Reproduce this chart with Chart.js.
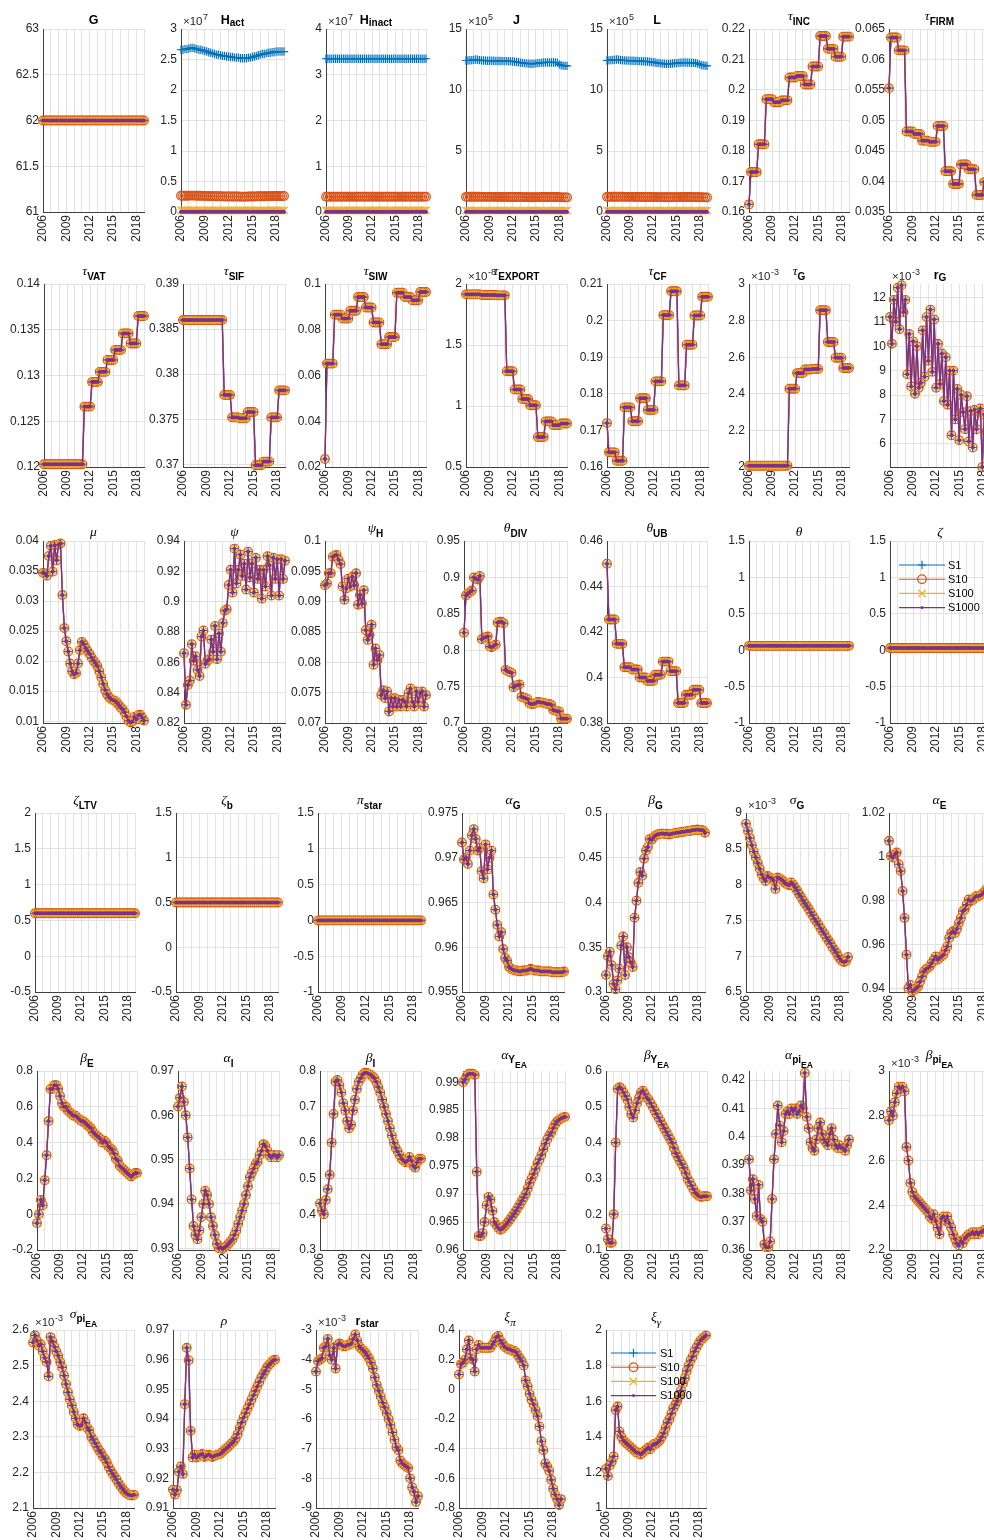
<!DOCTYPE html>
<html>
<head>
<meta charset="utf-8">
<title>Parameter paths by scenario</title>
<script src="https://cdn.jsdelivr.net/npm/chart.js@4.4.1/dist/chart.umd.min.js"></script>
<style>
  html, body { margin: 0; padding: 0; background: #fff; width: 984px; height: 1540px; overflow: hidden; }
  #fig { position: relative; width: 984px; height: 1540px; }
  #fig canvas { position: absolute; }
</style>
</head>
<body>
<div id="fig"></div>
<script>
// ---- data -------------------------------------------------------------

// quarterly observation dates, 2006Q1 .. 2019Q1
const QUARTERS = [
  2006, 2006.25, 2006.5, 2006.75, 2007, 2007.25, 2007.5, 2007.75,
  2008, 2008.25, 2008.5, 2008.75, 2009, 2009.25, 2009.5, 2009.75,
  2010, 2010.25, 2010.5, 2010.75, 2011, 2011.25, 2011.5, 2011.75,
  2012, 2012.25, 2012.5, 2012.75, 2013, 2013.25, 2013.5, 2013.75,
  2014, 2014.25, 2014.5, 2014.75, 2015, 2015.25, 2015.5, 2015.75,
  2016, 2016.25, 2016.5, 2016.75, 2017, 2017.25, 2017.5, 2017.75,
  2018, 2018.25, 2018.5, 2018.75, 2019,
];
const YEAR_LABELS = [2006, 2009, 2012, 2015, 2018];
const SERIES_NAMES = ['S1', 'S10', 'S100', 'S1000'];

const gVals = [
  62, 62, 62, 62, 62, 62, 62, 62,
  62, 62, 62, 62, 62, 62, 62, 62,
  62, 62, 62, 62, 62, 62, 62, 62,
  62, 62, 62, 62, 62, 62, 62, 62,
  62, 62, 62, 62, 62, 62, 62, 62,
  62, 62, 62, 62, 62, 62, 62, 62,
  62, 62, 62, 62, 62,
];

// H_act, units of 1e7
const hActS1 = [
  2.66, 2.66, 2.67, 2.67, 2.68, 2.69, 2.69, 2.68,
  2.67, 2.66, 2.66, 2.65, 2.64, 2.63, 2.62, 2.61,
  2.60, 2.59, 2.58, 2.58, 2.57, 2.56, 2.56, 2.55,
  2.55, 2.54, 2.54, 2.53, 2.53, 2.53, 2.52, 2.52,
  2.52, 2.52, 2.53, 2.53, 2.54, 2.55, 2.56, 2.57,
  2.58, 2.59, 2.59, 2.60, 2.61, 2.61, 2.62, 2.62,
  2.63, 2.63, 2.63, 2.63, 2.63,
];
const hActS10 = [
  0.266, 0.266, 0.267, 0.267, 0.268, 0.269, 0.269, 0.268,
  0.267, 0.266, 0.266, 0.265, 0.264, 0.263, 0.262, 0.261,
  0.260, 0.259, 0.258, 0.258, 0.257, 0.256, 0.256, 0.255,
  0.255, 0.254, 0.254, 0.253, 0.253, 0.253, 0.252, 0.252,
  0.252, 0.252, 0.253, 0.253, 0.254, 0.255, 0.256, 0.257,
  0.258, 0.259, 0.259, 0.260, 0.261, 0.261, 0.262, 0.262,
  0.263, 0.263, 0.263, 0.263, 0.263,
];
const hActS100 = [
  0.0266, 0.0266, 0.0267, 0.0267, 0.0268, 0.0269, 0.0269, 0.0268,
  0.0267, 0.0266, 0.0266, 0.0265, 0.0264, 0.0263, 0.0262, 0.0261,
  0.0260, 0.0259, 0.0258, 0.0258, 0.0257, 0.0256, 0.0256, 0.0255,
  0.0255, 0.0254, 0.0254, 0.0253, 0.0253, 0.0253, 0.0252, 0.0252,
  0.0252, 0.0252, 0.0253, 0.0253, 0.0254, 0.0255, 0.0256, 0.0257,
  0.0258, 0.0259, 0.0259, 0.0260, 0.0261, 0.0261, 0.0262, 0.0262,
  0.0263, 0.0263, 0.0263, 0.0263, 0.0263,
];
const hActS1000 = [
  0.00266, 0.00266, 0.00267, 0.00267, 0.00268, 0.00269, 0.00269, 0.00268,
  0.00267, 0.00266, 0.00266, 0.00265, 0.00264, 0.00263, 0.00262, 0.00261,
  0.00260, 0.00259, 0.00258, 0.00258, 0.00257, 0.00256, 0.00256, 0.00255,
  0.00255, 0.00254, 0.00254, 0.00253, 0.00253, 0.00253, 0.00252, 0.00252,
  0.00252, 0.00252, 0.00253, 0.00253, 0.00254, 0.00255, 0.00256, 0.00257,
  0.00258, 0.00259, 0.00259, 0.00260, 0.00261, 0.00261, 0.00262, 0.00262,
  0.00263, 0.00263, 0.00263, 0.00263, 0.00263,
];

// H_inact, units of 1e7
const hInactS1 = [
  3.35, 3.35, 3.35, 3.35, 3.35, 3.35, 3.35, 3.35,
  3.35, 3.35, 3.35, 3.35, 3.35, 3.35, 3.35, 3.35,
  3.35, 3.35, 3.35, 3.35, 3.35, 3.35, 3.35, 3.35,
  3.35, 3.35, 3.35, 3.35, 3.35, 3.35, 3.35, 3.35,
  3.35, 3.35, 3.35, 3.35, 3.35, 3.35, 3.35, 3.35,
  3.35, 3.35, 3.35, 3.35, 3.35, 3.35, 3.35, 3.35,
  3.35, 3.35, 3.35, 3.35, 3.35,
];
const hInactS10 = [
  0.335, 0.335, 0.335, 0.335, 0.335, 0.335, 0.335, 0.335,
  0.335, 0.335, 0.335, 0.335, 0.335, 0.335, 0.335, 0.335,
  0.335, 0.335, 0.335, 0.335, 0.335, 0.335, 0.335, 0.335,
  0.335, 0.335, 0.335, 0.335, 0.335, 0.335, 0.335, 0.335,
  0.335, 0.335, 0.335, 0.335, 0.335, 0.335, 0.335, 0.335,
  0.335, 0.335, 0.335, 0.335, 0.335, 0.335, 0.335, 0.335,
  0.335, 0.335, 0.335, 0.335, 0.335,
];
const hInactS100 = [
  0.0335, 0.0335, 0.0335, 0.0335, 0.0335, 0.0335, 0.0335, 0.0335,
  0.0335, 0.0335, 0.0335, 0.0335, 0.0335, 0.0335, 0.0335, 0.0335,
  0.0335, 0.0335, 0.0335, 0.0335, 0.0335, 0.0335, 0.0335, 0.0335,
  0.0335, 0.0335, 0.0335, 0.0335, 0.0335, 0.0335, 0.0335, 0.0335,
  0.0335, 0.0335, 0.0335, 0.0335, 0.0335, 0.0335, 0.0335, 0.0335,
  0.0335, 0.0335, 0.0335, 0.0335, 0.0335, 0.0335, 0.0335, 0.0335,
  0.0335, 0.0335, 0.0335, 0.0335, 0.0335,
];
const hInactS1000 = [
  0.00335, 0.00335, 0.00335, 0.00335, 0.00335, 0.00335, 0.00335, 0.00335,
  0.00335, 0.00335, 0.00335, 0.00335, 0.00335, 0.00335, 0.00335, 0.00335,
  0.00335, 0.00335, 0.00335, 0.00335, 0.00335, 0.00335, 0.00335, 0.00335,
  0.00335, 0.00335, 0.00335, 0.00335, 0.00335, 0.00335, 0.00335, 0.00335,
  0.00335, 0.00335, 0.00335, 0.00335, 0.00335, 0.00335, 0.00335, 0.00335,
  0.00335, 0.00335, 0.00335, 0.00335, 0.00335, 0.00335, 0.00335, 0.00335,
  0.00335, 0.00335, 0.00335, 0.00335, 0.00335,
];

// J, units of 1e5
const jS1 = [
  12.42, 12.42, 12.44, 12.45, 12.47, 12.50, 12.48, 12.45,
  12.43, 12.42, 12.41, 12.40, 12.40, 12.40, 12.40, 12.39,
  12.38, 12.38, 12.38, 12.37, 12.37, 12.37, 12.36, 12.35,
  12.34, 12.32, 12.30, 12.27, 12.24, 12.22, 12.20, 12.18,
  12.16, 12.15, 12.15, 12.16, 12.18, 12.20, 12.22, 12.24,
  12.25, 12.26, 12.26, 12.26, 12.26, 12.26, 12.25, 12.24,
  12.10, 12.02, 12.00, 11.98, 11.98,
];
const jS10 = [
  1.242, 1.242, 1.244, 1.245, 1.247, 1.250, 1.248, 1.245,
  1.243, 1.242, 1.241, 1.240, 1.240, 1.240, 1.240, 1.239,
  1.238, 1.238, 1.238, 1.237, 1.237, 1.237, 1.236, 1.235,
  1.234, 1.232, 1.230, 1.227, 1.224, 1.222, 1.220, 1.218,
  1.216, 1.215, 1.215, 1.216, 1.218, 1.220, 1.222, 1.224,
  1.225, 1.226, 1.226, 1.226, 1.226, 1.226, 1.225, 1.224,
  1.210, 1.202, 1.200, 1.198, 1.198,
];
const jS100 = [
  0.1242, 0.1242, 0.1244, 0.1245, 0.1247, 0.1250, 0.1248, 0.1245,
  0.1243, 0.1242, 0.1241, 0.1240, 0.1240, 0.1240, 0.1240, 0.1239,
  0.1238, 0.1238, 0.1238, 0.1237, 0.1237, 0.1237, 0.1236, 0.1235,
  0.1234, 0.1232, 0.1230, 0.1227, 0.1224, 0.1222, 0.1220, 0.1218,
  0.1216, 0.1215, 0.1215, 0.1216, 0.1218, 0.1220, 0.1222, 0.1224,
  0.1225, 0.1226, 0.1226, 0.1226, 0.1226, 0.1226, 0.1225, 0.1224,
  0.1210, 0.1202, 0.1200, 0.1198, 0.1198,
];
const jS1000 = [
  0.0124, 0.0124, 0.0124, 0.0124, 0.0125, 0.0125, 0.0125, 0.0124,
  0.0124, 0.0124, 0.0124, 0.0124, 0.0124, 0.0124, 0.0124, 0.0124,
  0.0124, 0.0124, 0.0124, 0.0124, 0.0124, 0.0124, 0.0124, 0.0124,
  0.0123, 0.0123, 0.0123, 0.0123, 0.0122, 0.0122, 0.0122, 0.0122,
  0.0122, 0.0122, 0.0122, 0.0122, 0.0122, 0.0122, 0.0122, 0.0122,
  0.0123, 0.0123, 0.0123, 0.0123, 0.0123, 0.0123, 0.0123, 0.0122,
  0.0121, 0.0120, 0.0120, 0.0120, 0.0120,
];

// L, units of 1e5
const lS1 = [
  12.42, 12.43, 12.45, 12.46, 12.48, 12.50, 12.49, 12.46,
  12.44, 12.43, 12.42, 12.41, 12.41, 12.40, 12.40, 12.39,
  12.38, 12.37, 12.36, 12.35, 12.34, 12.33, 12.32, 12.30,
  12.28, 12.25, 12.22, 12.20, 12.18, 12.16, 12.15, 12.14,
  12.14, 12.15, 12.17, 12.19, 12.20, 12.22, 12.23, 12.24,
  12.25, 12.25, 12.24, 12.24, 12.23, 12.22, 12.20, 12.18,
  12.10, 12.05, 12.02, 12.00, 11.98,
];
const lS10 = [
  1.242, 1.243, 1.245, 1.246, 1.248, 1.250, 1.249, 1.246,
  1.244, 1.243, 1.242, 1.241, 1.241, 1.240, 1.240, 1.239,
  1.238, 1.237, 1.236, 1.235, 1.234, 1.233, 1.232, 1.230,
  1.228, 1.225, 1.222, 1.220, 1.218, 1.216, 1.215, 1.214,
  1.214, 1.215, 1.217, 1.219, 1.220, 1.222, 1.223, 1.224,
  1.225, 1.225, 1.224, 1.224, 1.223, 1.222, 1.220, 1.218,
  1.210, 1.205, 1.202, 1.200, 1.198,
];
const lS100 = [
  0.1242, 0.1243, 0.1245, 0.1246, 0.1248, 0.1250, 0.1249, 0.1246,
  0.1244, 0.1243, 0.1242, 0.1241, 0.1241, 0.1240, 0.1240, 0.1239,
  0.1238, 0.1237, 0.1236, 0.1235, 0.1234, 0.1233, 0.1232, 0.1230,
  0.1228, 0.1225, 0.1222, 0.1220, 0.1218, 0.1216, 0.1215, 0.1214,
  0.1214, 0.1215, 0.1217, 0.1219, 0.1220, 0.1222, 0.1223, 0.1224,
  0.1225, 0.1225, 0.1224, 0.1224, 0.1223, 0.1222, 0.1220, 0.1218,
  0.1210, 0.1205, 0.1202, 0.1200, 0.1198,
];
const lS1000 = [
  0.0124, 0.0124, 0.0124, 0.0125, 0.0125, 0.0125, 0.0125, 0.0125,
  0.0124, 0.0124, 0.0124, 0.0124, 0.0124, 0.0124, 0.0124, 0.0124,
  0.0124, 0.0124, 0.0124, 0.0124, 0.0123, 0.0123, 0.0123, 0.0123,
  0.0123, 0.0123, 0.0122, 0.0122, 0.0122, 0.0122, 0.0122, 0.0121,
  0.0121, 0.0122, 0.0122, 0.0122, 0.0122, 0.0122, 0.0122, 0.0122,
  0.0123, 0.0123, 0.0122, 0.0122, 0.0122, 0.0122, 0.0122, 0.0122,
  0.0121, 0.0121, 0.0120, 0.0120, 0.0120,
];

const tauInc = [
  0.1625, 0.1731, 0.1731, 0.1731, 0.1731, 0.1822, 0.1822, 0.1822,
  0.1822, 0.1970, 0.1970, 0.1970, 0.1970, 0.1960, 0.1960, 0.1960,
  0.1960, 0.1966, 0.1966, 0.1966, 0.1966, 0.2041, 0.2041, 0.2041,
  0.2041, 0.2046, 0.2046, 0.2046, 0.2046, 0.2018, 0.2018, 0.2018,
  0.2018, 0.2077, 0.2077, 0.2077, 0.2077, 0.2177, 0.2177, 0.2177,
  0.2177, 0.2135, 0.2135, 0.2135, 0.2135, 0.2109, 0.2109, 0.2109,
  0.2109, 0.2175, 0.2175, 0.2175, 0.2175,
];
const tauFirm = [
  0.0553, 0.0636, 0.0636, 0.0636, 0.0636, 0.0615, 0.0615, 0.0615,
  0.0615, 0.0482, 0.0482, 0.0482, 0.0482, 0.0478, 0.0478, 0.0478,
  0.0478, 0.0467, 0.0467, 0.0467, 0.0467, 0.0465, 0.0465, 0.0465,
  0.0465, 0.0491, 0.0491, 0.0491, 0.0491, 0.0417, 0.0417, 0.0417,
  0.0417, 0.0396, 0.0396, 0.0396, 0.0396, 0.0428, 0.0428, 0.0428,
  0.0428, 0.0420, 0.0420, 0.0420, 0.0420, 0.0378, 0.0378, 0.0378,
  0.0378, 0.0399, 0.0399, 0.0399, 0.0399,
];
const tauVat = [
  0.1203, 0.1203, 0.1203, 0.1203, 0.1203, 0.1203, 0.1203, 0.1203,
  0.1203, 0.1203, 0.1203, 0.1203, 0.1203, 0.1203, 0.1203, 0.1203,
  0.1203, 0.1203, 0.1203, 0.1203, 0.1203, 0.1266, 0.1266, 0.1266,
  0.1266, 0.1293, 0.1293, 0.1293, 0.1293, 0.1304, 0.1304, 0.1304,
  0.1304, 0.1317, 0.1317, 0.1317, 0.1317, 0.1328, 0.1328, 0.1328,
  0.1328, 0.1346, 0.1346, 0.1346, 0.1346, 0.1335, 0.1335, 0.1335,
  0.1335, 0.1365, 0.1365, 0.1365, 0.1365,
];
const tauSif = [
  0.3860, 0.3860, 0.3860, 0.3860, 0.3860, 0.3860, 0.3860, 0.3860,
  0.3860, 0.3860, 0.3860, 0.3860, 0.3860, 0.3860, 0.3860, 0.3860,
  0.3860, 0.3860, 0.3860, 0.3860, 0.3860, 0.3777, 0.3777, 0.3777,
  0.3777, 0.3752, 0.3752, 0.3752, 0.3752, 0.3751, 0.3751, 0.3751,
  0.3751, 0.3758, 0.3758, 0.3758, 0.3758, 0.3699, 0.3699, 0.3699,
  0.3699, 0.3703, 0.3703, 0.3703, 0.3703, 0.3752, 0.3752, 0.3752,
  0.3752, 0.3782, 0.3782, 0.3782, 0.3782,
];
const tauSiw = [
  0.0235, 0.0652, 0.0652, 0.0652, 0.0652, 0.0866, 0.0866, 0.0866,
  0.0866, 0.0849, 0.0849, 0.0849, 0.0849, 0.0883, 0.0883, 0.0883,
  0.0883, 0.0943, 0.0943, 0.0943, 0.0943, 0.0897, 0.0897, 0.0897,
  0.0897, 0.0832, 0.0832, 0.0832, 0.0832, 0.0737, 0.0737, 0.0737,
  0.0737, 0.0768, 0.0768, 0.0768, 0.0768, 0.0962, 0.0962, 0.0962,
  0.0962, 0.0943, 0.0943, 0.0943, 0.0943, 0.0929, 0.0929, 0.0929,
  0.0929, 0.0965, 0.0965, 0.0965, 0.0965,
];
// tau_EXPORT, units of 1e-8
const tauExport = [
  1.915, 1.915, 1.915, 1.915, 1.915, 1.915, 1.915, 1.915,
  1.910, 1.910, 1.910, 1.910, 1.910, 1.910, 1.910, 1.910,
  1.907, 1.907, 1.907, 1.907, 1.907, 1.285, 1.285, 1.285,
  1.285, 1.135, 1.135, 1.135, 1.135, 1.057, 1.057, 1.057,
  1.057, 1.006, 1.006, 1.006, 1.006, 0.746, 0.746, 0.746,
  0.746, 0.874, 0.874, 0.874, 0.874, 0.843, 0.843, 0.843,
  0.843, 0.856, 0.856, 0.856, 0.856,
];
const tauCf = [
  0.1720, 0.1640, 0.1640, 0.1640, 0.1640, 0.1617, 0.1617, 0.1617,
  0.1617, 0.1763, 0.1763, 0.1763, 0.1763, 0.1725, 0.1725, 0.1725,
  0.1725, 0.1788, 0.1788, 0.1788, 0.1788, 0.1756, 0.1756, 0.1756,
  0.1756, 0.1834, 0.1834, 0.1834, 0.1834, 0.2015, 0.2015, 0.2015,
  0.2015, 0.2080, 0.2080, 0.2080, 0.2080, 0.1823, 0.1823, 0.1823,
  0.1823, 0.1934, 0.1934, 0.1934, 0.1934, 0.2014, 0.2014, 0.2014,
  0.2014, 0.2065, 0.2065, 0.2065, 0.2065,
];
// tau_G, units of 1e-3
const tauG = [
  2.007, 2.007, 2.007, 2.007, 2.007, 2.007, 2.007, 2.007,
  2.007, 2.007, 2.007, 2.007, 2.007, 2.007, 2.007, 2.007,
  2.007, 2.007, 2.007, 2.007, 2.007, 2.428, 2.428, 2.428,
  2.428, 2.513, 2.513, 2.513, 2.513, 2.533, 2.533, 2.533,
  2.533, 2.536, 2.536, 2.536, 2.536, 2.857, 2.857, 2.857,
  2.857, 2.683, 2.683, 2.683, 2.683, 2.597, 2.597, 2.597,
  2.597, 2.541, 2.541, 2.541, 2.541,
];
// r_G, units of 1e-3
const rG = [
  11.2, 10.1, 11.9, 11.0, 12.4, 10.7, 12.5, 11.4,
  11.9, 8.85, 10.5, 8.35, 10.2, 8.05, 10.0, 8.3,
  8.5, 10.65, 8.75, 11.2, 9.4, 11.5, 8.95, 11.1,
  8.3, 10.1, 8.45, 9.7, 7.75, 9.55, 7.6, 9.0,
  6.35, 9.0, 7.0, 8.25, 6.15, 8.0, 7.3, 6.6,
  7.95, 6.1, 7.35, 5.85, 7.4, 6.6, 7.3, 7.45,
  5.05, 7.2, 6.5, 7.0, 7.2,
];

const mu = [
  0.0347, 0.0346, 0.0342, 0.0375, 0.0392, 0.0349, 0.0393, 0.0368,
  0.0394, 0.0396, 0.0310, 0.0255, 0.0233, 0.0216, 0.0196, 0.0183,
  0.0178, 0.0180, 0.0196, 0.0218, 0.0232, 0.0228, 0.0222, 0.0217,
  0.0212, 0.0206, 0.0201, 0.0197, 0.0192, 0.0183, 0.0173, 0.0162,
  0.0152, 0.0145, 0.0140, 0.0137, 0.0135, 0.0134, 0.0131, 0.0127,
  0.0123, 0.0120, 0.0115, 0.0108, 0.0101, 0.0098, 0.0099, 0.0107,
  0.0103, 0.0110, 0.0111, 0.0106, 0.0101,
];
const psi = [
  0.866, 0.832, 0.845, 0.848, 0.872, 0.861, 0.864, 0.855,
  0.851, 0.877, 0.881, 0.859, 0.861, 0.862, 0.875, 0.867,
  0.884, 0.862, 0.879, 0.867, 0.886, 0.894, 0.895, 0.911,
  0.921, 0.906, 0.935, 0.912, 0.921, 0.931, 0.917, 0.925,
  0.908, 0.933, 0.916, 0.925, 0.906, 0.929, 0.915, 0.921,
  0.902, 0.921, 0.910, 0.930, 0.924, 0.904, 0.929, 0.915,
  0.928, 0.904, 0.928, 0.915, 0.927,
];
const psiH = [
  0.0927, 0.0930, 0.0947, 0.0947, 0.0974, 0.0976, 0.0977, 0.0969,
  0.0962, 0.0925, 0.0903, 0.0922, 0.0938, 0.0925, 0.0941, 0.0927,
  0.0947, 0.0895, 0.0911, 0.0897, 0.0919, 0.0853, 0.0837, 0.0845,
  0.0862, 0.0796, 0.0823, 0.0804, 0.0812, 0.0746, 0.0754, 0.0741,
  0.0752, 0.0719, 0.0741, 0.0727, 0.0741, 0.0727, 0.0738, 0.0727,
  0.0738, 0.0735, 0.0727, 0.0749, 0.0757, 0.0735, 0.0727, 0.0752,
  0.0735, 0.0749, 0.0752, 0.0727, 0.0746,
];
const thetaDiv = [
  0.824, 0.875, 0.878, 0.880, 0.882, 0.900, 0.898, 0.897,
  0.902, 0.815, 0.817, 0.818, 0.819, 0.805, 0.804, 0.806,
  0.808, 0.838, 0.839, 0.839, 0.837, 0.773, 0.771, 0.770,
  0.769, 0.749, 0.751, 0.752, 0.753, 0.736, 0.735, 0.734,
  0.733, 0.727, 0.726, 0.726, 0.727, 0.729, 0.729, 0.728,
  0.728, 0.727, 0.726, 0.726, 0.725, 0.718, 0.717, 0.716,
  0.716, 0.706, 0.706, 0.706, 0.706,
];
const thetaUb = [
  0.4500, 0.4255, 0.4255, 0.4255, 0.4255, 0.4148, 0.4148, 0.4148,
  0.4148, 0.4045, 0.4045, 0.4045, 0.4045, 0.4035, 0.4035, 0.4035,
  0.4035, 0.4000, 0.4000, 0.4000, 0.4000, 0.3985, 0.3985, 0.3985,
  0.3985, 0.4012, 0.4012, 0.4012, 0.4012, 0.4070, 0.4070, 0.4070,
  0.4070, 0.4028, 0.4028, 0.4028, 0.4028, 0.3888, 0.3888, 0.3888,
  0.3888, 0.3924, 0.3924, 0.3924, 0.3924, 0.3946, 0.3946, 0.3946,
  0.3946, 0.3888, 0.3888, 0.3888, 0.3888,
];
const theta = [
  0.06, 0.06, 0.06, 0.06, 0.06, 0.06, 0.06, 0.06,
  0.06, 0.06, 0.06, 0.06, 0.06, 0.06, 0.06, 0.06,
  0.06, 0.06, 0.06, 0.06, 0.06, 0.06, 0.06, 0.06,
  0.06, 0.06, 0.06, 0.06, 0.06, 0.06, 0.06, 0.06,
  0.06, 0.06, 0.06, 0.06, 0.06, 0.06, 0.06, 0.06,
  0.06, 0.06, 0.06, 0.06, 0.06, 0.06, 0.06, 0.06,
  0.06, 0.06, 0.06, 0.06, 0.06,
];
const zeta = [
  0.03, 0.03, 0.03, 0.03, 0.03, 0.03, 0.03, 0.03,
  0.03, 0.03, 0.03, 0.03, 0.03, 0.03, 0.03, 0.03,
  0.03, 0.03, 0.03, 0.03, 0.03, 0.03, 0.03, 0.03,
  0.03, 0.03, 0.03, 0.03, 0.03, 0.03, 0.03, 0.03,
  0.03, 0.03, 0.03, 0.03, 0.03, 0.03, 0.03, 0.03,
  0.03, 0.03, 0.03, 0.03, 0.03, 0.03, 0.03, 0.03,
  0.03, 0.03, 0.03, 0.03, 0.03,
];

const zetaLtv = [
  0.6, 0.6, 0.6, 0.6, 0.6, 0.6, 0.6, 0.6,
  0.6, 0.6, 0.6, 0.6, 0.6, 0.6, 0.6, 0.6,
  0.6, 0.6, 0.6, 0.6, 0.6, 0.6, 0.6, 0.6,
  0.6, 0.6, 0.6, 0.6, 0.6, 0.6, 0.6, 0.6,
  0.6, 0.6, 0.6, 0.6, 0.6, 0.6, 0.6, 0.6,
  0.6, 0.6, 0.6, 0.6, 0.6, 0.6, 0.6, 0.6,
  0.6, 0.6, 0.6, 0.6, 0.6,
];
const zetaB = [
  0.5, 0.5, 0.5, 0.5, 0.5, 0.5, 0.5, 0.5,
  0.5, 0.5, 0.5, 0.5, 0.5, 0.5, 0.5, 0.5,
  0.5, 0.5, 0.5, 0.5, 0.5, 0.5, 0.5, 0.5,
  0.5, 0.5, 0.5, 0.5, 0.5, 0.5, 0.5, 0.5,
  0.5, 0.5, 0.5, 0.5, 0.5, 0.5, 0.5, 0.5,
  0.5, 0.5, 0.5, 0.5, 0.5, 0.5, 0.5, 0.5,
  0.5, 0.5, 0.5, 0.5, 0.5,
];
const piStar = [
  0, 0, 0, 0, 0, 0, 0, 0,
  0, 0, 0, 0, 0, 0, 0, 0,
  0, 0, 0, 0, 0, 0, 0, 0,
  0, 0, 0, 0, 0, 0, 0, 0,
  0, 0, 0, 0, 0, 0, 0, 0,
  0, 0, 0, 0, 0, 0, 0, 0,
  0, 0, 0, 0, 0,
];
const alphaG = [
  0.9717, 0.9698, 0.9700, 0.9693, 0.9708, 0.9725, 0.9732, 0.9721,
  0.9708, 0.9711, 0.9685, 0.9677, 0.9715, 0.9687, 0.9700, 0.9708,
  0.9659, 0.9642, 0.9625, 0.9612, 0.9617, 0.9598, 0.9588, 0.9585,
  0.9578, 0.9576, 0.9575, 0.9574, 0.9574, 0.9573, 0.9573, 0.9574,
  0.9574, 0.9574, 0.9575, 0.9576, 0.9575, 0.9574, 0.9574, 0.9574,
  0.9573, 0.9573, 0.9573, 0.9573, 0.9573, 0.9573, 0.9572, 0.9572,
  0.9572, 0.9572, 0.9572, 0.9572, 0.9573,
];
const betaG = [
  0.319, 0.340, 0.345, 0.330, 0.309, 0.303, 0.313, 0.326,
  0.352, 0.362, 0.319, 0.350, 0.339, 0.333, 0.328, 0.383,
  0.402, 0.422, 0.434, 0.430, 0.449, 0.458, 0.462, 0.471,
  0.470, 0.473, 0.475, 0.476, 0.4765, 0.477, 0.477, 0.4765,
  0.477, 0.476, 0.4765, 0.477, 0.4775, 0.478, 0.478, 0.4785,
  0.479, 0.479, 0.4795, 0.480, 0.480, 0.4805, 0.481, 0.481,
  0.4815, 0.481, 0.481, 0.4805, 0.478,
];
// sigma_G, units of 1e-3
const sigmaG = [
  8.85, 8.75, 8.65, 8.55, 8.46, 8.38, 8.30, 8.22,
  8.14, 8.09, 8.05, 8.12, 8.10, 8.09, 8.06, 7.94,
  8.10, 8.09, 8.07, 8.05, 8.02, 8.00, 7.99, 8.03,
  8.00, 7.96, 7.92, 7.87, 7.83, 7.78, 7.74, 7.70,
  7.66, 7.61, 7.57, 7.52, 7.48, 7.44, 7.39, 7.35,
  7.31, 7.26, 7.22, 7.18, 7.13, 7.09, 7.05, 7.00,
  6.96, 6.93, 6.92, 6.93, 6.99,
];
const alphaE = [
  1.0073, 1.0004, 0.9997, 1.0012, 1.0020, 0.9966, 0.9935, 0.9844,
  0.9721, 0.9553, 0.9400, 0.9415, 0.9385, 0.9392, 0.9400, 0.9408,
  0.9430, 0.9453, 0.9476, 0.9487, 0.9492, 0.9499, 0.9515, 0.9530,
  0.9545, 0.9530, 0.9538, 0.9545, 0.9553, 0.9573, 0.9591, 0.9629,
  0.9652, 0.9660, 0.9652, 0.9671, 0.9698, 0.9721, 0.9752, 0.9759,
  0.9782, 0.9805, 0.9798, 0.9802, 0.9813, 0.9821, 0.9820, 0.9825,
  0.9830, 0.9840, 0.9850, 0.9860, 0.9870,
];

const betaE = [
  -0.05, 0.00, 0.08, 0.05, 0.19, 0.33, 0.52, 0.70,
  0.70, 0.72, 0.72, 0.70, 0.66, 0.62, 0.60, 0.60,
  0.58, 0.57, 0.56, 0.55, 0.55, 0.54, 0.53, 0.52,
  0.52, 0.51, 0.50, 0.49, 0.48, 0.46, 0.45, 0.44,
  0.43, 0.42, 0.40, 0.41, 0.40, 0.38, 0.37, 0.36,
  0.34, 0.31, 0.30, 0.27, 0.26, 0.25, 0.24, 0.23,
  0.22, 0.21, 0.22, 0.23, 0.23,
];
const alphaI = [
  0.9620, 0.9640, 0.9665, 0.9630, 0.9600, 0.9550, 0.9480, 0.9410,
  0.9350, 0.9330, 0.9320, 0.9340, 0.9370, 0.9400, 0.9430, 0.9420,
  0.9400, 0.9370, 0.9350, 0.9330, 0.9310, 0.9300, 0.9302, 0.9298,
  0.9302, 0.9305, 0.9310, 0.9315, 0.9320, 0.9330, 0.9340, 0.9355,
  0.9370, 0.9385, 0.9400, 0.9420, 0.9440, 0.9460, 0.9470, 0.9480,
  0.9490, 0.9495, 0.9510, 0.9520, 0.9535, 0.9530, 0.9520, 0.9510,
  0.9505, 0.9510, 0.9510, 0.9505, 0.9510,
];
const betaI = [
  0.43, 0.41, 0.40, 0.44, 0.47, 0.51, 0.60, 0.68,
  0.77, 0.775, 0.76, 0.74, 0.71, 0.69, 0.66, 0.64,
  0.65, 0.69, 0.72, 0.75, 0.77, 0.78, 0.79, 0.795,
  0.795, 0.792, 0.79, 0.785, 0.78, 0.77, 0.755, 0.74,
  0.72, 0.70, 0.68, 0.66, 0.64, 0.62, 0.60, 0.585,
  0.575, 0.565, 0.555, 0.55, 0.545, 0.55, 0.56, 0.55,
  0.535, 0.53, 0.545, 0.555, 0.555,
];
const alphaYEA = [
  0.9900, 0.9905, 0.9912, 0.9915, 0.9915, 0.9915, 0.9913, 0.9740,
  0.9625, 0.9625, 0.9630, 0.9650, 0.9680, 0.9695, 0.9690, 0.9670,
  0.9650, 0.9645, 0.9640, 0.9636, 0.9638, 0.9642, 0.9646, 0.9650,
  0.9655, 0.9660, 0.9665, 0.9670, 0.9676, 0.9682, 0.9688, 0.9694,
  0.9700, 0.9710, 0.9720, 0.9728, 0.9736, 0.9745, 0.9755, 0.9762,
  0.9770, 0.9780, 0.9790, 0.9798, 0.9805, 0.9810, 0.9818, 0.9825,
  0.9830, 0.9833, 0.9835, 0.9837, 0.9838,
];
const betaYEA = [
  0.16, 0.13, 0.12, 0.12, 0.20, 0.40, 0.55, 0.555,
  0.55, 0.54, 0.53, 0.52, 0.50, 0.48, 0.47, 0.49,
  0.51, 0.525, 0.54, 0.545, 0.535, 0.525, 0.52, 0.51,
  0.50, 0.49, 0.48, 0.47, 0.46, 0.45, 0.44, 0.43,
  0.42, 0.41, 0.40, 0.385, 0.37, 0.36, 0.35, 0.34,
  0.33, 0.315, 0.30, 0.29, 0.28, 0.27, 0.26, 0.255,
  0.25, 0.248, 0.25, 0.25, 0.25,
];
const alphaPiEA = [
  0.392, 0.381, 0.385, 0.378, 0.372, 0.383, 0.371, 0.370,
  0.362, 0.361, 0.361, 0.363, 0.378, 0.392, 0.401, 0.411,
  0.404, 0.398, 0.402, 0.408, 0.409, 0.408, 0.410, 0.409,
  0.410, 0.408, 0.409, 0.411, 0.410, 0.4225, 0.407, 0.403,
  0.398, 0.396, 0.395, 0.399, 0.403, 0.405, 0.401, 0.399,
  0.398, 0.397, 0.401, 0.403, 0.399, 0.397, 0.396, 0.397,
  0.396, 0.396, 0.395, 0.397, 0.399,
];
// beta_piEA, units of 1e-3
const betaPiEA = [
  2.78, 2.82, 2.80, 2.86, 2.90, 2.93, 2.92, 2.93,
  2.91, 2.66, 2.60, 2.50, 2.46, 2.44, 2.43, 2.42,
  2.41, 2.40, 2.39, 2.38, 2.37, 2.35, 2.34, 2.36,
  2.33, 2.30, 2.27, 2.34, 2.35, 2.33, 2.35, 2.32,
  2.30, 2.27, 2.25, 2.23, 2.22, 2.24, 2.23, 2.25,
  2.26, 2.27, 2.27, 2.28, 2.27, 2.28, 2.27, 2.28,
  2.28, 2.29, 2.29, 2.28, 2.29,
];

// sigma_piEA, units of 1e-3
const sigmaPiEA = [
  2.565, 2.585, 2.570, 2.556, 2.560, 2.540, 2.522, 2.510,
  2.470, 2.580, 2.568, 2.553, 2.540, 2.528, 2.510, 2.495,
  2.472, 2.448, 2.425, 2.405, 2.388, 2.370, 2.352, 2.335,
  2.330, 2.333, 2.352, 2.340, 2.325, 2.318, 2.300, 2.292,
  2.282, 2.272, 2.262, 2.255, 2.245, 2.238, 2.228, 2.215,
  2.205, 2.196, 2.188, 2.180, 2.170, 2.162, 2.155, 2.148,
  2.142, 2.138, 2.136, 2.135, 2.137,
];
const rho = [
  0.9162, 0.9145, 0.9160, 0.9222, 0.9240, 0.9215, 0.9450, 0.9640,
  0.9598, 0.9360, 0.9270, 0.9280, 0.9270, 0.9275, 0.9280, 0.9282,
  0.9272, 0.9276, 0.9280, 0.9278, 0.9272, 0.9275, 0.9278, 0.9280,
  0.9282, 0.9288, 0.9295, 0.9300, 0.9305, 0.9312, 0.9318, 0.9325,
  0.9335, 0.9350, 0.9370, 0.9388, 0.9405, 0.9420, 0.9435, 0.9450,
  0.9465, 0.9480, 0.9495, 0.9510, 0.9525, 0.9540, 0.9552, 0.9562,
  0.9575, 0.9583, 0.9590, 0.9597, 0.9600,
];
// r_star, units of 1e-3
const rStar = [
  -4.40, -4.05, -4.00, -3.95, -3.60, -3.55, -3.30, -3.85,
  -4.00, -3.60, -4.30, -3.50, -3.45, -3.50, -3.55, -3.55,
  -3.50, -3.50, -3.45, -3.30, -3.15, -3.35, -3.55, -3.62,
  -3.68, -3.75, -3.85, -3.95, -4.10, -4.30, -4.60, -4.85,
  -5.05, -5.25, -5.45, -5.60, -5.80, -6.00, -6.20, -6.45,
  -6.70, -6.95, -7.05, -7.40, -7.50, -7.55, -7.60, -7.65,
  -8.00, -8.30, -8.45, -8.80, -8.60,
];
const xiPi = [
  0.10, 0.17, 0.18, 0.20, 0.27, 0.33, 0.21, 0.20,
  0.12, 0.27, 0.30, 0.28, 0.28, 0.28, 0.28, 0.28,
  0.28, 0.30, 0.32, 0.35, 0.36, 0.33, 0.31, 0.29,
  0.28, 0.27, 0.27, 0.26, 0.26, 0.25, 0.23, 0.21,
  0.19, 0.16, 0.06, 0.02, -0.03, -0.07, -0.10, -0.14,
  -0.18, -0.25, -0.35, -0.41, -0.50, -0.52, -0.55, -0.61,
  -0.67, -0.71, -0.74, -0.78, -0.74,
];
const xiGamma = [
  1.22, 1.18, 1.24, 1.26, 1.29, 1.55, 1.57, 1.43,
  1.40, 1.38, 1.37, 1.36, 1.35, 1.34, 1.33, 1.32,
  1.31, 1.31, 1.30, 1.31, 1.32, 1.33, 1.34, 1.33,
  1.35, 1.36, 1.36, 1.37, 1.38, 1.40, 1.42, 1.45,
  1.48, 1.50, 1.53, 1.56, 1.58, 1.60, 1.63, 1.66,
  1.70, 1.73, 1.77, 1.80, 1.83, 1.85, 1.88, 1.90,
  1.92, 1.94, 1.95, 1.96, 1.97,
];

// ---- panel definitions --------------------------------------------------
// title segments: [text, 'b' bold latin | 'g' greek, level 0/1/2 (subscript depth)]
const PANELS = [
  { title: [['G', 'b', 0]], y: [61, 63, 0.5], series: [gVals] },
  { title: [['H', 'b', 0], ['act', 'b', 1]], exp: '7', y: [0, 3, 0.5], series: [hActS1, hActS10, hActS100, hActS1000] },
  { title: [['H', 'b', 0], ['inact', 'b', 1]], exp: '7', y: [0, 4, 1], series: [hInactS1, hInactS10, hInactS100, hInactS1000] },
  { title: [['J', 'b', 0]], exp: '5', y: [0, 15, 5], series: [jS1, jS10, jS100, jS1000] },
  { title: [['L', 'b', 0]], exp: '5', y: [0, 15, 5], series: [lS1, lS10, lS100, lS1000] },
  { title: [['τ', 'g', 0], ['INC', 'b', 1]], y: [0.16, 0.22, 0.01], series: [tauInc] },
  { title: [['τ', 'g', 0], ['FIRM', 'b', 1]], y: [0.035, 0.065, 0.005], series: [tauFirm] },

  { title: [['τ', 'g', 0], ['VAT', 'b', 1]], y: [0.12, 0.14, 0.005], series: [tauVat] },
  { title: [['τ', 'g', 0], ['SIF', 'b', 1]], y: [0.3697, 0.39, 0.005], series: [tauSif] },
  { title: [['τ', 'g', 0], ['SIW', 'b', 1]], y: [0.02, 0.1, 0.02], series: [tauSiw] },
  { title: [['τ', 'g', 0], ['EXPORT', 'b', 1]], exp: '-8', y: [0.5, 2, 0.5], series: [tauExport] },
  { title: [['τ', 'g', 0], ['CF', 'b', 1]], y: [0.16, 0.21, 0.01], series: [tauCf] },
  { title: [['τ', 'g', 0], ['G', 'b', 1]], exp: '-3', y: [2, 3, 0.2], series: [tauG] },
  { title: [['r', 'b', 0], ['G', 'b', 1]], exp: '-3', y: [5.05, 12.55, 1], series: [rG] },

  { title: [['μ', 'g', 0]], y: [0.0097, 0.04, 0.005], series: [mu] },
  { title: [['ψ', 'g', 0]], y: [0.82, 0.94, 0.02], series: [psi] },
  { title: [['ψ', 'g', 0], ['H', 'b', 1]], y: [0.07, 0.1, 0.005], series: [psiH] },
  { title: [['θ', 'g', 0], ['DIV', 'b', 1]], y: [0.7, 0.95, 0.05], series: [thetaDiv] },
  { title: [['θ', 'g', 0], ['UB', 'b', 1]], y: [0.38, 0.46, 0.02], series: [thetaUb] },
  { title: [['θ', 'g', 0]], y: [-1, 1.5, 0.5], series: [theta] },
  { title: [['ζ', 'g', 0]], y: [-1, 1.5, 0.5], series: [zeta], legend: { x0: 9, x1: 55, tx: 58, dy: 24 } },

  { title: [['ζ', 'g', 0], ['LTV', 'b', 1]], y: [-0.5, 2, 0.5], series: [zetaLtv] },
  { title: [['ζ', 'g', 0], ['b', 'b', 1]], y: [-0.5, 1.5, 0.5], series: [zetaB] },
  { title: [['π', 'g', 0], ['star', 'b', 1]], y: [-1, 1.5, 0.5], series: [piStar] },
  { title: [['α', 'g', 0], ['G', 'b', 1]], y: [0.955, 0.975, 0.005], series: [alphaG] },
  { title: [['β', 'g', 0], ['G', 'b', 1]], y: [0.3, 0.5, 0.05], series: [betaG] },
  { title: [['σ', 'g', 0], ['G', 'b', 1]], exp: '-3', y: [6.5, 9, 0.5], series: [sigmaG] },
  { title: [['α', 'g', 0], ['E', 'b', 1]], y: [0.9383, 1.02, 0.02], series: [alphaE] },

  { title: [['β', 'g', 0], ['E', 'b', 1]], y: [-0.2, 0.8, 0.2], series: [betaE] },
  { title: [['α', 'g', 0], ['I', 'b', 1]], y: [0.9296, 0.97, 0.01], series: [alphaI] },
  { title: [['β', 'g', 0], ['I', 'b', 1]], y: [0.3, 0.8, 0.1], series: [betaI] },
  { title: [['α', 'g', 0], ['Y', 'b', 1], ['EA', 'b', 2]], y: [0.96, 0.992, 0.005], series: [alphaYEA] },
  { title: [['β', 'g', 0], ['Y', 'b', 1], ['EA', 'b', 2]], y: [0.1, 0.6, 0.1], series: [betaYEA] },
  { title: [['α', 'g', 0], ['pi', 'b', 1], ['EA', 'b', 2]], y: [0.36, 0.4232, 0.01], series: [alphaPiEA] },
  { title: [['β', 'g', 0], ['pi', 'b', 1], ['EA', 'b', 2]], exp: '-3', y: [2.2, 3, 0.2], series: [betaPiEA] },

  { title: [['σ', 'g', 0], ['pi', 'b', 1], ['EA', 'b', 2]], exp: '-3', y: [2.1, 2.6, 0.1], series: [sigmaPiEA] },
  { title: [['ρ', 'g', 0]], y: [0.91, 0.97, 0.01], series: [rho] },
  { title: [['r', 'b', 0], ['star', 'b', 1]], exp: '-3', y: [-9, -3, 1], series: [rStar] },
  { title: [['ξ', 'g', 0], ['π', 'g', 1]], y: [-0.8, 0.4, 0.2], series: [xiPi] },
  { title: [['ξ', 'g', 0], ['γ', 'g', 1]], y: [1, 2, 0.2], series: [xiGamma], legend: { x0: 5, x1: 50, tx: 54, dy: 23 } },
];

// ---- layout (axes boxes in page pixels) ---------------------------------
const ROW_TOP = [29, 284, 541, 813, 1071, 1330];
const ROW_H = [183, 183, 182, 179, 179, 178];
const COL_LEFT = [
  [43, 181, 326, 466, 607, 749, 889],
  [44, 183, 325, 466, 607, 749, 890],
  [43, 184, 325, 464, 607, 749, 890],
  [35, 176, 318, 462, 606, 746, 889],
  [37, 178, 320, 463, 606, 749, 889],
  [33, 173, 316, 459, 606],
];
const COL_W = [
  [101, 103, 100, 101, 100, 100, 101],
  [100, 102, 101, 101, 101, 100, 100],
  [101, 101, 101, 103, 100, 100, 100],
  [100, 102, 103, 102, 99, 102, 101],
  [100, 101, 101, 102, 101, 100, 101],
  [101, 102, 102, 102, 100],
];
const PAD_L = 46, PAD_T = 32, PAD_R = 12, PAD_B = 34;

// ---- styles -------------------------------------------------------------
const SANS = '"Liberation Sans", Arial, Helvetica, sans-serif';
const SERIF = '"Liberation Serif", "DejaVu Serif", serif';
const TEXT = '#262626';
const GRID = '#e2e2e2';
const AXIS = '#404040';

const SERIES_STYLE = [
  { color: '#0072BD', point: 'cross', r: 4.2, fill: false, lw: 1.1, mw: 1.2 },
  { color: '#D95319', point: 'circle', r: 4.3, fill: false, lw: 1.1, mw: 1.3 },
  { color: '#EDB120', point: 'crossRot', r: 5.2, fill: false, lw: 1.1, mw: 1.2 },
  { color: '#7E2F8E', point: 'circle', r: 1.5, fill: true, lw: 1.4, mw: 1 },
];

Chart.defaults.font.family = SANS;
Chart.defaults.font.size = 12;
Chart.defaults.color = TEXT;

const TITLE_SIZE = { b: ['bold 12.5px', 'bold 10px', 'bold 8.5px'], g: ['italic 13.5px', 'italic 11px', 'italic 9px'] };

function segFont(kind, lvl) {
  return TITLE_SIZE[kind][lvl] + ' ' + (kind === 'g' ? SERIF : SANS);
}

// distance of each subscript level's baseline above the axes top
function titleBaselines(segs) {
  const depth = Math.max(...segs.map(s => s[2]));
  if (depth === 0) return [5];
  if (depth === 2) return [12, 8.5, 3];
  return segs[0][1] === 'g' ? [9, 4] : [5.5, 3];
}

function drawTitle(ctx, segs, cx, top) {
  const base = titleBaselines(segs);
  let w = 0;
  segs.forEach(s => { ctx.font = segFont(s[1], s[2]); w += ctx.measureText(s[0]).width; });
  let x = cx - w / 2;
  ctx.fillStyle = '#000';
  ctx.textAlign = 'left';
  ctx.textBaseline = 'alphabetic';
  segs.forEach(s => {
    ctx.font = segFont(s[1], s[2]);
    ctx.fillText(s[0], x, top - base[s[2]]);
    x += ctx.measureText(s[0]).width;
  });
}

function drawExponent(ctx, exp, left, top) {
  ctx.fillStyle = TEXT;
  ctx.textAlign = 'left';
  ctx.textBaseline = 'alphabetic';
  ctx.font = '11.5px ' + SANS;
  ctx.fillText('×10', left + 2, top - 4);
  const w = ctx.measureText('×10').width;
  ctx.font = '9px ' + SANS;
  ctx.fillText(exp, left + 2.5 + w, top - 9);
}

function drawMarker(ctx, st, x, y) {
  const r = st.r;
  ctx.strokeStyle = st.color;
  ctx.fillStyle = st.color;
  ctx.lineWidth = st.mw;
  ctx.beginPath();
  if (st.point === 'cross') {
    ctx.moveTo(x - r, y); ctx.lineTo(x + r, y);
    ctx.moveTo(x, y - r); ctx.lineTo(x, y + r);
    ctx.stroke();
  } else if (st.point === 'crossRot') {
    const d = r * Math.SQRT1_2;
    ctx.moveTo(x - d, y - d); ctx.lineTo(x + d, y + d);
    ctx.moveTo(x - d, y + d); ctx.lineTo(x + d, y - d);
    ctx.stroke();
  } else {
    ctx.arc(x, y, r, 0, Math.PI * 2);
    if (st.fill) ctx.fill(); else ctx.stroke();
  }
}

function drawLegend(ctx, a, lg) {
  SERIES_STYLE.forEach((st, s) => {
    const y = a.top + lg.dy + s * 14.2;
    ctx.strokeStyle = st.color;
    ctx.lineWidth = st.lw;
    ctx.beginPath();
    ctx.moveTo(a.left + lg.x0, y);
    ctx.lineTo(a.left + lg.x1, y);
    ctx.stroke();
    drawMarker(ctx, st, a.left + (lg.x0 + lg.x1) / 2, y);
    ctx.fillStyle = '#000';
    ctx.font = '11px ' + SANS;
    ctx.textAlign = 'left';
    ctx.textBaseline = 'middle';
    ctx.fillText(SERIES_NAMES[s], a.left + lg.tx, y + 0.5);
  });
}

// title, x10^n multiplier and legend drawn on top of each small chart
const panelDecor = {
  id: 'panelDecor',
  afterDraw(chart, args, opts) {
    const p = opts.panel;
    const a = chart.chartArea;
    const ctx = chart.ctx;
    ctx.save();
    drawTitle(ctx, p.title, (a.left + a.right) / 2, a.top);
    if (p.exp) drawExponent(ctx, p.exp, a.left, a.top);
    if (p.legend) drawLegend(ctx, a, p.legend);
    ctx.restore();
  },
};

const fmtTick = v => String(Number(v.toFixed(6)));

// ---- build the grid of charts ------------------------------------------
const fig = document.getElementById('fig');

PANELS.forEach((p, k) => {
  const row = Math.floor(k / 7);
  const col = k % 7;
  const left = COL_LEFT[row][col];
  const width = COL_W[row][col];
  const top = ROW_TOP[row];
  const height = ROW_H[row];

  const canvas = document.createElement('canvas');
  const cw = PAD_L + width + PAD_R;
  const ch = PAD_T + height + PAD_B;
  canvas.width = cw;
  canvas.height = ch;
  canvas.style.left = (left - PAD_L) + 'px';
  canvas.style.top = (top - PAD_T) + 'px';
  canvas.style.width = cw + 'px';
  canvas.style.height = ch + 'px';
  fig.appendChild(canvas);

  const datasets = SERIES_STYLE.map((st, s) => {
    const vals = p.series.length === 1 ? p.series[0] : p.series[s];
    return {
      label: SERIES_NAMES[s],
      data: QUARTERS.map((q, i) => ({ x: q, y: vals[i] })),
      borderColor: st.color,
      borderWidth: st.lw,
      tension: 0,
      fill: false,
      pointStyle: st.point,
      pointRadius: st.r,
      pointBorderColor: st.color,
      pointBackgroundColor: st.fill ? st.color : 'rgba(0,0,0,0)',
      pointBorderWidth: st.mw,
      clip: false,
      order: 4 - s, // S1000 ends up on top
    };
  });

  new Chart(canvas, {
    type: 'line',
    data: { datasets },
    options: {
      responsive: false,
      animation: false,
      events: [],
      layout: { padding: { left: 0, top: PAD_T, right: PAD_R, bottom: 0 } },
      plugins: {
        legend: { display: false },
        tooltip: { enabled: false },
        panelDecor: { panel: p },
      },
      scales: {
        x: {
          type: 'linear',
          min: 2006,
          max: 2019,
          afterFit(scale) {
            scale.height = PAD_B;
            scale.paddingLeft = 0;
            scale.paddingRight = 0;
          },
          ticks: {
            stepSize: 1,
            autoSkip: false,
            maxTicksLimit: 20,
            includeBounds: false,
            minRotation: 90,
            maxRotation: 90,
            padding: 3,
            color: TEXT,
            font: { size: 12 },
            callback: v => (YEAR_LABELS.includes(v) ? String(v) : ''),
          },
          grid: { color: GRID, lineWidth: 1, drawTicks: false },
          border: { color: AXIS, width: 1 },
        },
        y: {
          type: 'linear',
          min: p.y[0],
          max: p.y[1],
          afterFit(scale) {
            scale.width = PAD_L;
            scale.paddingTop = 0;
            scale.paddingBottom = 0;
          },
          ticks: {
            stepSize: p.y[2],
            autoSkip: false,
            maxTicksLimit: 20,
            includeBounds: false,
            padding: 4,
            color: TEXT,
            font: { size: 12 },
            callback: fmtTick,
          },
          grid: { color: GRID, lineWidth: 1, drawTicks: false },
          border: { color: AXIS, width: 1 },
        },
      },
    },
    plugins: [panelDecor],
  });
});
</script>
</body>
</html>
